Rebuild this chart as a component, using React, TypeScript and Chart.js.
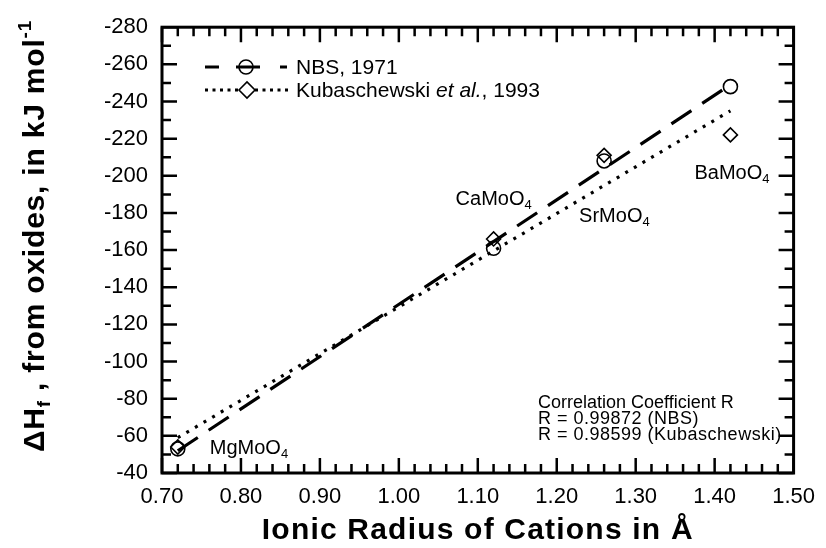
import React, { useEffect, useRef } from 'react';
import { Chart, registerables } from 'chart.js';

Chart.register(...registerables);

// ---------------- data ----------------
const compounds = ['MgMoO', 'CaMoO', 'SrMoO', 'BaMoO'];
const ionicRadii = [0.72, 1.12, 1.26, 1.42];
const nbsValues = [-53, -161, -208, -248];
const kubValues = [-54, -166, -211, -222];
const nbsFitX = [0.72, 1.42];
const nbsFitY = [-52, -249];
const kubFitX = [0.72, 1.42];
const kubFitY = [-59, -235];
const xTickValues = [0.7, 0.8, 0.9, 1.0, 1.1, 1.2, 1.3, 1.4, 1.5];
const xTickLabels = ['0.70', '0.80', '0.90', '1.00', '1.10', '1.20', '1.30', '1.40', '1.50'];
const yTickValues = [-280, -260, -240, -220, -200, -180, -160, -140, -120, -100, -80, -60, -40];
const yTickLabels = ['-280', '-260', '-240', '-220', '-200', '-180', '-160', '-140', '-120', '-100', '-80', '-60', '-40'];
const legendNbs = 'NBS, 1971';
const legendKub = ['Kubaschewski ', 'et al.', ', 1993'];
const correlationLines = ['Correlation Coefficient R', 'R = 0.99872 (NBS)', 'R = 0.98599 (Kubaschewski)'];
const xTitle = 'Ionic Radius of Cations in Å';
const yTitleParts = ['ΔH', 'f', ' , from oxides, in kJ mol', '-1'];

// ---------------- style / layout ----------------
const FAM = '"Liberation Sans", Arial, Helvetica, sans-serif';
const labelOffsets = [
  [32, 5],
  [-38, -43],
  [-25, 61],
  [-36, 92],
];

type Part = { text: string; font: string; dy?: number };

function drawParts(ctx: CanvasRenderingContext2D, parts: Part[], x: number, y: number, align: 'left' | 'center') {
  const widths = parts.map((p) => {
    ctx.font = p.font;
    return ctx.measureText(p.text).width;
  });
  const total = widths.reduce((a, b) => a + b, 0);
  let cx = align === 'center' ? x - total / 2 : x;
  ctx.textAlign = 'left';
  ctx.textBaseline = 'alphabetic';
  parts.forEach((p, i) => {
    ctx.font = p.font;
    ctx.fillText(p.text, cx, y + (p.dy || 0));
    cx += widths[i];
  });
}

const framePlugin = {
  id: 'frameTicks',
  afterDatasetsDraw(chart: any) {
    const { ctx, chartArea: a, scales } = chart;
    const xs = scales.x;
    const ys = scales.y;
    ctx.save();
    ctx.strokeStyle = '#000';
    ctx.lineCap = 'butt';
    const major = 15;
    const minor = 9;
    ctx.lineWidth = 2.5;
    for (let i = 0; i < xTickValues.length; i++) {
      const px = xs.getPixelForValue(xTickValues[i]);
      ctx.beginPath();
      ctx.moveTo(px, a.bottom); ctx.lineTo(px, a.bottom - major);
      ctx.moveTo(px, a.top); ctx.lineTo(px, a.top + major);
      ctx.stroke();
      if (i < xTickValues.length - 1) {
        for (let k = 1; k < 5; k++) {
          const v = xTickValues[i] + ((xTickValues[i + 1] - xTickValues[i]) * k) / 5;
          const mx = xs.getPixelForValue(v);
          ctx.beginPath();
          ctx.moveTo(mx, a.bottom); ctx.lineTo(mx, a.bottom - minor);
          ctx.moveTo(mx, a.top); ctx.lineTo(mx, a.top + minor);
          ctx.stroke();
        }
      }
    }
    for (let i = 0; i < yTickValues.length; i++) {
      const py = ys.getPixelForValue(yTickValues[i]);
      ctx.beginPath();
      ctx.moveTo(a.left, py); ctx.lineTo(a.left + major, py);
      ctx.moveTo(a.right, py); ctx.lineTo(a.right - major, py);
      ctx.stroke();
      if (i < yTickValues.length - 1) {
        const v = (yTickValues[i] + yTickValues[i + 1]) / 2;
        const my = ys.getPixelForValue(v);
        ctx.beginPath();
        ctx.moveTo(a.left, my); ctx.lineTo(a.left + minor, my);
        ctx.moveTo(a.right, my); ctx.lineTo(a.right - minor, my);
        ctx.stroke();
      }
    }
    ctx.lineWidth = 3;
    ctx.strokeRect(a.left, a.top, a.right - a.left, a.bottom - a.top);
    ctx.restore();
  },
  afterDraw(chart: any) {
    const { ctx, chartArea: a, scales } = chart;
    const xs = scales.x;
    const ys = scales.y;
    ctx.save();
    ctx.fillStyle = '#000';
    ctx.strokeStyle = '#000';

    compounds.forEach((c, i) => {
      const px = xs.getPixelForValue(ionicRadii[i]) + labelOffsets[i][0];
      const py = ys.getPixelForValue(nbsValues[i]) + labelOffsets[i][1];
      drawParts(ctx, [
        { text: c, font: `20px ${FAM}` },
        { text: '4', font: `13px ${FAM}`, dy: 4 },
      ], px, py, 'left');
    });

    correlationLines.forEach((t, i) => {
      (ctx as any).letterSpacing = i === 0 ? '0px' : '0.5px';
      drawParts(ctx, [{ text: t, font: `18px ${FAM}` }], 538, 408 + i * 16, 'left');
    });
    (ctx as any).letterSpacing = '0px';

    const r1 = 67;
    ctx.lineWidth = 3;
    ctx.beginPath();
    ctx.moveTo(205, r1); ctx.lineTo(219, r1);
    ctx.moveTo(236, r1); ctx.lineTo(260, r1);
    ctx.moveTo(280, r1); ctx.lineTo(287, r1);
    ctx.stroke();
    ctx.lineWidth = 1.6;
    ctx.beginPath();
    ctx.arc(246, r1, 7, 0, Math.PI * 2);
    ctx.stroke();
    drawParts(ctx, [{ text: legendNbs, font: `21px ${FAM}` }], 296, r1 + 7, 'left');

    const r2 = 90;
    ctx.lineWidth = 3;
    ctx.setLineDash([3, 4.5]);
    ctx.beginPath();
    ctx.moveTo(205, r2); ctx.lineTo(240, r2);
    ctx.moveTo(255, r2); ctx.lineTo(290, r2);
    ctx.stroke();
    ctx.setLineDash([]);
    ctx.lineWidth = 1.6;
    ctx.beginPath();
    ctx.moveTo(239, r2); ctx.lineTo(247, r2 - 8); ctx.lineTo(255, r2); ctx.lineTo(247, r2 + 8); ctx.closePath();
    ctx.fillStyle = '#fff';
    ctx.fill();
    ctx.stroke();
    ctx.fillStyle = '#000';
    drawParts(ctx, [
      { text: legendKub[0], font: `21px ${FAM}` },
      { text: legendKub[1], font: `italic 21px ${FAM}` },
      { text: legendKub[2], font: `21px ${FAM}` },
    ], 296, r2 + 7, 'left');

    (ctx as any).letterSpacing = '1.2px';
    drawParts(ctx, [{ text: xTitle, font: `bold 30px ${FAM}` }], (a.left + a.right) / 2, 539, 'center');

    (ctx as any).letterSpacing = '0.8px';
    ctx.translate(44, 236);
    ctx.rotate(-Math.PI / 2);
    drawParts(ctx, [
      { text: yTitleParts[0], font: `bold 30px ${FAM}` },
      { text: yTitleParts[1], font: `bold 19px ${FAM}`, dy: 6 },
      { text: yTitleParts[2], font: `bold 30px ${FAM}` },
      { text: yTitleParts[3], font: `bold 19px ${FAM}`, dy: -13 },
    ], 0, 0, 'center');
    ctx.restore();
  },
};

export default function App() {
  const ref = useRef<HTMLCanvasElement | null>(null);

  useEffect(() => {
    if (!ref.current) return;
    const toXY = (xs: number[], ys: number[]) => xs.map((x, i) => ({ x, y: ys[i] }));
    const chart = new Chart(ref.current, {
      type: 'scatter',
      data: {
        datasets: [
          {
            label: 'NBS, 1971',
            data: toXY(ionicRadii, nbsValues),
            pointStyle: 'circle',
            pointRadius: 7,
            borderWidth: 1.6,
            borderColor: '#000',
            backgroundColor: 'rgba(0,0,0,0)',
            showLine: false,
            order: 1,
          },
          {
            label: 'Kubaschewski et al., 1993',
            data: toXY(ionicRadii, kubValues),
            pointStyle: 'rectRot',
            pointRadius: 7,
            borderWidth: 1.6,
            borderColor: '#000',
            backgroundColor: 'rgba(0,0,0,0)',
            showLine: false,
            order: 2,
          },
          {
            label: 'NBS fit',
            data: toXY(nbsFitX, nbsFitY),
            showLine: true,
            pointRadius: 0,
            borderColor: '#000',
            borderWidth: 3.2,
            borderDash: [24, 13],
            borderCapStyle: 'butt',
            order: 3,
          },
          {
            label: 'Kubaschewski fit',
            data: toXY(kubFitX, kubFitY),
            showLine: true,
            pointRadius: 0,
            borderColor: '#000',
            borderWidth: 3.2,
            borderDash: [3, 7],
            borderCapStyle: 'butt',
            order: 4,
          },
        ],
      },
      options: {
        responsive: false,
        animation: false,
        layout: { padding: { left: 0, right: 28, top: 20, bottom: 0 } },
        plugins: { legend: { display: false }, tooltip: { enabled: false } },
        scales: {
          x: {
            type: 'linear',
            min: 0.7,
            max: 1.5,
            afterFit: (s: any) => { s.height = 75; },
            afterBuildTicks: (s: any) => { s.ticks = xTickValues.map((v) => ({ value: v })); },
            ticks: {
              autoSkip: false,
              maxRotation: 0,
              padding: 11,
              color: '#000',
              font: { family: FAM, size: 22 },
              callback: (_v: any, i: number) => xTickLabels[i],
            },
            grid: { display: false, drawTicks: false },
            border: { display: false },
          },
          y: {
            type: 'linear',
            min: -280,
            max: -40,
            reverse: true,
            afterFit: (s: any) => { s.width = 162; },
            afterBuildTicks: (s: any) => { s.ticks = yTickValues.map((v) => ({ value: v })); },
            ticks: {
              autoSkip: false,
              padding: 14,
              color: '#000',
              font: { family: FAM, size: 22 },
              callback: (_v: any, i: number) => yTickLabels[i],
            },
            grid: { display: false, drawTicks: false },
            border: { display: false },
          },
        },
      },
      plugins: [framePlugin],
    } as any);
    return () => chart.destroy();
  }, []);

  return (
    <div style={{ position: 'absolute', left: 0, top: 0, width: 826, height: 548, background: '#fff' }}>
      <canvas ref={ref} width={826} height={548} style={{ display: 'block' }} />
    </div>
  );
}
